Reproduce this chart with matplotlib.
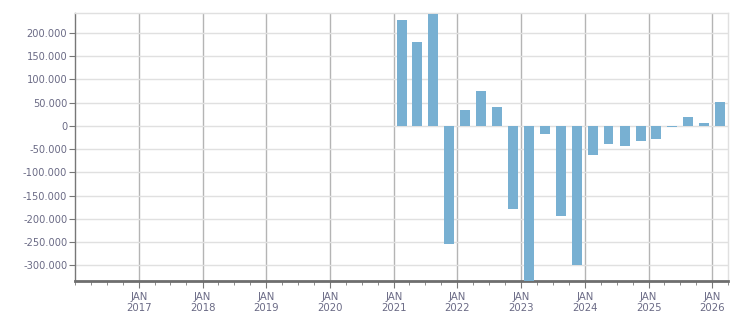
import matplotlib
matplotlib.use("Agg")
import matplotlib.pyplot as plt
import matplotlib.dates as mdates
import matplotlib.ticker as mticker
import numpy as np
import datetime as dt

# Quarterly data (bar centred in the middle of each quarter)
quarters = ["2021Q1", "2021Q2", "2021Q3", "2021Q4",
            "2022Q1", "2022Q2", "2022Q3", "2022Q4",
            "2023Q1", "2023Q2", "2023Q3", "2023Q4",
            "2024Q1", "2024Q2", "2024Q3", "2024Q4",
            "2025Q1", "2025Q2", "2025Q3", "2025Q4",
            "2026Q1"]
values = [228800, 181300, 241700, -254000,
          34500, 75500, 41000, -179000,
          -345000, -17000, -194000, -300000,
          -62000, -39000, -43000, -32000,
          -28000, -2000, 19400, 6500,
          51800]
year_labels = ["2017", "2018", "2019", "2020", "2021", "2022", "2023", "2024", "2025", "2026"]
y_ticks = [-300000, -250000, -200000, -150000, -100000, -50000, 0,
           50000, 100000, 150000, 200000]

def quarter_mid(q):
    y = int(q[:4]); n = int(q[-1])
    start = dt.date(y, 3 * (n - 1) + 1, 1)
    end = dt.date(y + (1 if n == 4 else 0), 1 if n == 4 else 3 * n + 1, 1)
    return start + (end - start) / 2

xdates = [quarter_mid(q) for q in quarters]
xnum = mdates.date2num(xdates)

fig = plt.figure(figsize=(7.51, 3.13), dpi=100)
ax = fig.add_axes([75 / 751, 1 - 280.7 / 313, (728 - 75) / 751, (280.7 - 13) / 313])

ax.bar(xnum, values, width=57, color="#78b0d2", zorder=3)

ax.set_xlim(mdates.date2num(dt.date(2016, 1, 1)), mdates.date2num(dt.date(2026, 4, 1)))
ax.set_ylim(-332700, 243000)

label_color = "#6a6a85"
ax.set_yticks(y_ticks)
ax.yaxis.set_major_formatter(mticker.FuncFormatter(
    lambda v, p: "0" if v == 0 else f"{int(v):,}".replace(",", ".")))
ax.yaxis.grid(True, color="#e0e0e0", linewidth=1, zorder=0)

major = [mdates.date2num(dt.date(int(y), 1, 1)) for y in year_labels]
ax.set_xticks(major)
ax.set_xticklabels([f"JAN\n{y}" for y in year_labels])
minor = []
for y in range(2016, 2027):
    for m in (1, 4, 7, 10):
        d = dt.date(y, m, 1)
        if d <= dt.date(2026, 4, 1):
            minor.append(mdates.date2num(d))
ax.set_xticks(minor, minor=True)
ax.xaxis.grid(True, which="major", color="#b4b4b4", linewidth=1, zorder=1)

ax.tick_params(axis="x", which="major", length=5, width=0.8, color="#777777",
               labelsize=7.3, labelcolor=label_color, pad=3)
ax.tick_params(axis="x", which="minor", length=3, width=0.6, color="#777777")
ax.tick_params(axis="y", length=4, width=0.8, color="#777777",
               labelsize=7.1, labelcolor=label_color, pad=1.5)

for s in ("top", "right"):
    ax.spines[s].set_color("#e0e0e0")
    ax.spines[s].set_linewidth(1)
ax.spines["left"].set_color("#777777")
ax.spines["left"].set_linewidth(1)
ax.spines["bottom"].set_color("#6e6e6e")
ax.spines["bottom"].set_linewidth(2)
ax.set_axisbelow(True)

for lab in ax.get_xticklabels():
    lab.set_linespacing(1.15)

fig.savefig("out.png", dpi=100)
